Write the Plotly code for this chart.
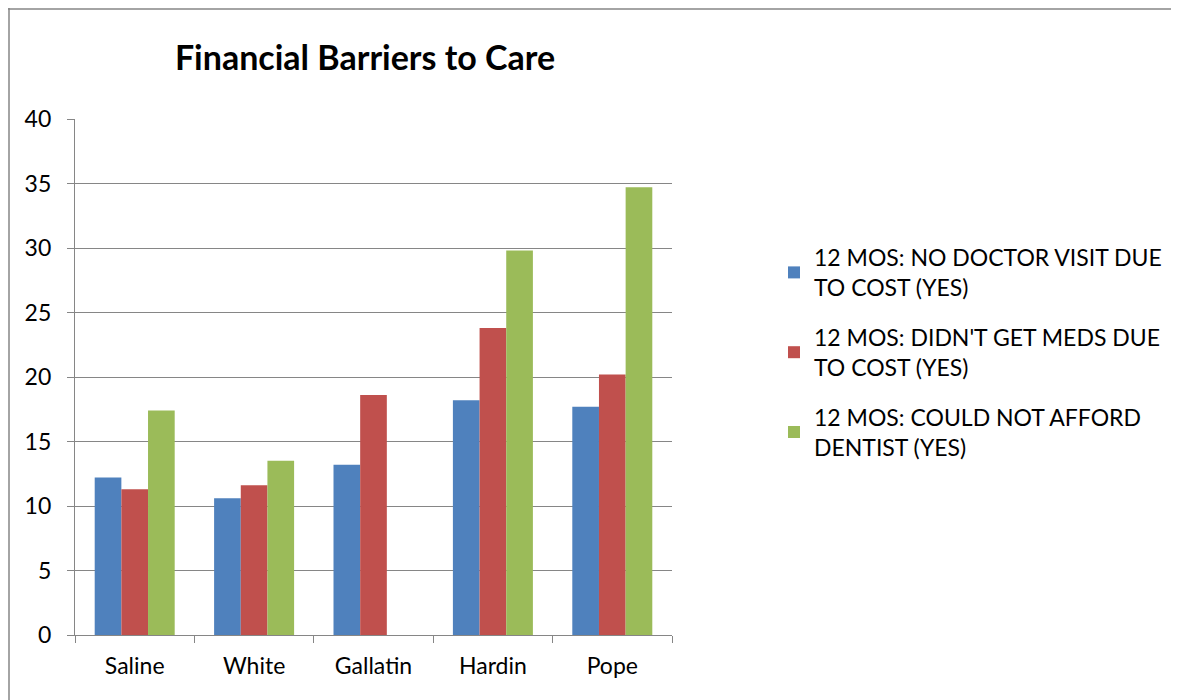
import plotly.graph_objects as go

counties = ["Saline", "White", "Gallatin", "Hardin", "Pope"]
no_doctor = [12.2, 10.6, 13.2, 18.2, 17.7]
no_meds = [11.3, 11.6, 18.6, 23.8, 20.2]
no_dentist = [17.4, 13.5, None, 29.8, 34.7]
series_names = [
    "12 MOS: NO DOCTOR VISIT DUE<br>TO COST (YES)",
    "12 MOS: DIDN'T GET MEDS DUE<br>TO COST (YES)",
    "12 MOS: COULD NOT AFFORD<br>DENTIST (YES)",
]
colors = ["#4F81BD", "#C0504D", "#9BBB59"]
y_ticks = [0, 5, 10, 15, 20, 25, 30, 35, 40]

FONT = "Lato"
W, H = 1179, 700
L, R, T, B = 67, 515, 111, 73
pw, ph = W - L - R, H - T - B

fig = go.Figure()
for i, (name, vals) in enumerate(zip(series_names, [no_doctor, no_meds, no_dentist])):
    fig.add_trace(go.Bar(x=counties, y=vals, name=name, marker_color=colors[i],
                         marker_line_width=0, legendgroup=f"g{i}"))

def px_x(p):
    return (p - L) / pw

def px_y(p):
    return (H - B - p) / ph

fig.update_layout(
    width=W, height=H,
    margin=dict(l=L, r=R, t=T, b=B),
    paper_bgcolor="white", plot_bgcolor="white",
    font=dict(family=FONT, size=23, color="black"),
    title=dict(text="<b>Financial Barriers to Care</b>", x=px_x(357), xref="paper", xanchor="center",
               y=1 - 50 / H, yanchor="middle", font=dict(size=34, family=FONT)),
    barmode="group", bargap=0.33, bargroupgap=0,
    showlegend=True,
    legend=dict(x=px_x(766), y=px_y(228), xanchor="left", yanchor="top",
                font=dict(size=23, family=FONT), tracegroupgap=17,
                bgcolor="rgba(0,0,0,0)"),
    xaxis=dict(showline=True, linecolor="#868686", linewidth=1.3, ticks="outside",
               tickcolor="#868686", ticklen=7, tickson="boundaries", showgrid=False,
               tickfont=dict(size=23), ticklabelstandoff=10),
    yaxis=dict(range=[0, 40], tickvals=y_ticks, showline=True, linecolor="#868686", linewidth=1.3,
               ticks="outside", tickcolor="#868686", ticklen=7, showgrid=True,
               gridcolor="#868686", gridwidth=1.3, zeroline=False, tickfont=dict(size=23),
               ticklabelstandoff=11),
    shapes=[
        dict(type="line", xref="paper", yref="paper", x0=px_x(0), x1=px_x(1179), y0=px_y(1), y1=px_y(1),
             line=dict(color="#868686", width=1.5)),
        dict(type="line", xref="paper", yref="paper", x0=px_x(1), x1=px_x(1), y0=px_y(0), y1=px_y(700),
             line=dict(color="#868686", width=1.5)),
    ],
)
fig.write_html("out.html")
